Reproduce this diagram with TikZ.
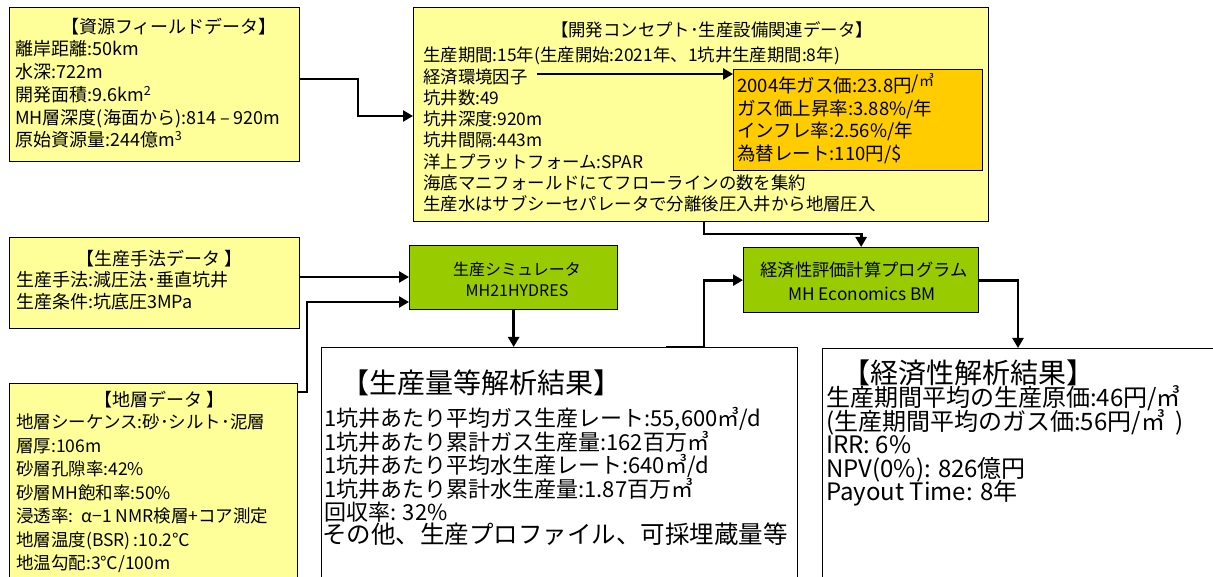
\documentclass[tikz,border=0pt]{standalone}
\usepackage{fontspec}
\setmainfont{Noto Sans CJK JP}
\usetikzlibrary{arrows.meta}
\definecolor{yel}{HTML}{FFFF99}
\definecolor{org}{HTML}{FFCC00}
\definecolor{grn}{HTML}{99CC00}
\newcommand\fs[1]{\fontsize{#1}{#1}\selectfont}
\newcommand\putlines[6]{\foreach \t [count=\i] in {#6}{\node[ln,font=\fs{#2}] (#1\i) at (#3,{#4+(\i-1)*#5}) {\t};}}
\begin{document}
\begin{tikzpicture}[x=1pt,y=-1pt,
  ybox/.style={draw=black,line width=1.3pt,fill=yel,anchor=north west,inner sep=0},
  obox/.style={draw=black,line width=1.3pt,fill=org,anchor=north west,inner sep=0},
  gbox/.style={draw=black,line width=1.3pt,fill=grn,anchor=north west,inner sep=0},
  wbox/.style={draw=black,line width=1.1pt,fill=white,anchor=north west,inner sep=0},
  ln/.style={anchor=west,inner sep=0,text height=.88em,text depth=.12em},
  ctr/.style={anchor=center,inner sep=0,text height=.88em,text depth=.12em},
  conn/.style={line width=2.8pt,-{Triangle[length=10pt,width=11pt]}}]
\useasboundingbox (0,0) rectangle (1213,577);
\clip (0,0) rectangle (1213,577);
% boxes
\node[ybox,minimum width=290pt,minimum height=154pt] (b1) at (9,7) {};
\node[ybox,minimum width=575pt,minimum height=214pt] (b2) at (413,7) {};
\node[obox,minimum width=249pt,minimum height=101pt] (ob) at (733,69) {};
\node[ybox,minimum width=290pt,minimum height=91pt] (b3) at (9,237) {};
\node[ybox,minimum width=288pt,minimum height=260pt] (b4) at (9,383) {};
\node[gbox,minimum width=208pt,minimum height=64pt] (g1) at (409,245) {};
\node[gbox,minimum width=235pt,minimum height=65pt] (g2) at (743,247) {};
\node[wbox,minimum width=476pt,minimum height=300pt] (r1) at (321,347) {};
\node[wbox,minimum width=420pt,minimum height=300pt] (r2) at (822,348) {};
% box 1
\node[ctr,font=\fs{18}] (b1t) at (169,30) {【資源フィールドデータ】};
\putlines{b1l}{18}{15}{52}{22.8}{{離岸距離:50km},{水深:722m},{開発面積:9.6km\textsuperscript{2}},{MH層深度(海面から):814 – 920m},{原始資源量:244億m\textsuperscript{3}}}
% box 2
\node[ctr,font=\fs{17.4}] (b2t) at (712,33) {【開発コンセプト･生産設備関連データ】};
\putlines{b2l}{17.4}{423}{58}{21.3}{{生産期間:15年(生産開始:2021年、1坑井生産期間:8年)},{経済環境因子},{坑井数:49},{坑井深度:920m},{坑井間隔:443m},{洋上プラットフォーム:SPAR},{海底マニフォールドにてフローラインの数を集約},{生産水はサブシーセパレータで分離後圧入井から地層圧入}}
% orange
\putlines{obl}{18.5}{737}{89}{22.5}{{2004年ガス価:23.8円\raisebox{3pt}{/}\raisebox{6pt}{\fs{15}㎥}},{ガス価上昇率:3.88\%/年},{インフレ率:2.56\%/年},{為替レート:110円/\$}}
% box 3
\node[ctr,font=\fs{18}] (b3t) at (160,262) {【生産手法データ 】};
\putlines{b3l}{18}{16}{283}{22}{{生産手法:減圧法･垂直坑井},{生産条件:坑底圧3MPa}}
% box 4
\node[ctr,font=\fs{18}] (b4t) at (160,403) {【地層データ 】};
\putlines{b4l}{17.5}{16}{425}{23.5}{{地層シーケンス:砂･シルト･泥層},{層厚:106m},{砂層孔隙率:42\%},{砂層MH飽和率:50\%},{浸透率:\ \ α−1 NMR検層+コア測定},{地層温度(BSR)\,:10.2℃},{地温勾配:3℃/100m}}
% green
\node[ctr,font=\fs{16}] (g1a) at (517,272) {生産シミュレータ};
\node[ctr,font=\fs{16}] (g1b) at (517,293) {MH21HYDRES};
\node[ctr,font=\fs{17.3}] (g2a) at (864,273) {経済性評価計算プログラム};
\node[ctr,font=\fs{17.3}] (g2b) at (862,297) {MH Economics BM};
% results 1
\node[ctr,font=\fs{28}] (r1t) at (481,390) {【生産量等解析結果】};
\putlines{r1l}{22}{324}{423}{23.5}{{1坑井あたり平均ガス生産レート:55,600㎥/d},{1坑井あたり累計ガス生産量:162百万㎥},{1坑井あたり平均水生産レート:640㎥/d},{1坑井あたり累計水生産量:1.87百万㎥},{回収率: 32\%}}
\node[ln,font=\fs{24.5}] (r1x) at (322,540) {その他、生産プロファイル、可採埋蔵量等};
% results 2
\node[ctr,font=\fs{28}] (r2t) at (968,380) {【経済性解析結果】};
\putlines{r2l}{24}{826}{403}{23.5}{{生産期間平均の生産原価:46円/㎥},{(生産期間平均のガス価:56円/㎥\ \ )},{IRR: 6\%},{NPV(0\%): 826億円},{Payout Time: 8年}}
% connectors
\coordinate (eco) at (537,74);
\draw[conn] (b1.east |- 0,79) -- (358,79) -- (358,116) -- (b2.west |- 0,116);
\draw[conn] (eco) -- (ob.west |- eco);
\draw[conn] (b2.south -| 704,0) -- (704,234) -| (g2.north);
\draw[conn] (b3.east |- 0,277) -- (g1.west |- 0,277);
\draw[conn] (b4.east |- 0,392) -- (307,392) |- (g1.west |- 0,302);
\draw[conn] (g1.south) -- (g1.south |- r1.north);
\draw[conn] (r1.north -| 666,0) -- (704,347) |- (g2.west);
\draw[conn] (g2.east) -| (r2.north -| 1018,0);
\end{tikzpicture}
\end{document}
